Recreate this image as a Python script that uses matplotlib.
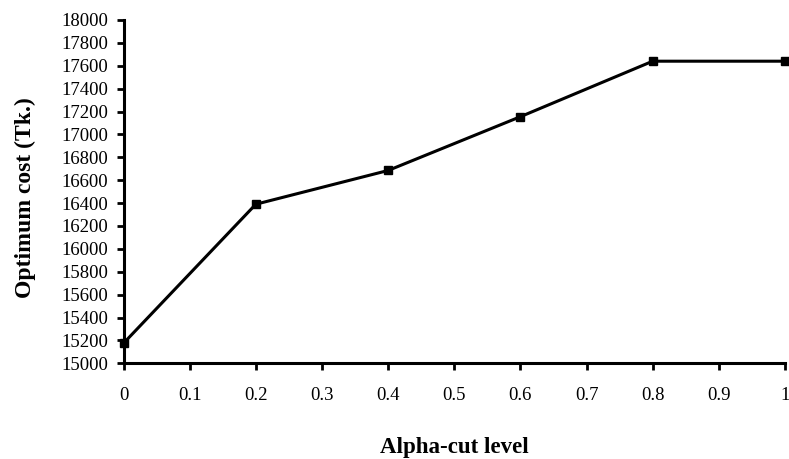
import matplotlib
matplotlib.use("Agg")
import matplotlib.pyplot as plt
import numpy as np

alpha_levels = [0, 0.2, 0.4, 0.6, 0.8, 1.0]
optimum_cost = [15175, 16390, 16685, 17155, 17640, 17640]
x_ticks = [0, 0.1, 0.2, 0.3, 0.4, 0.5, 0.6, 0.7, 0.8, 0.9, 1]
x_tick_labels = ["0", "0.1", "0.2", "0.3", "0.4", "0.5", "0.6", "0.7", "0.8", "0.9", "1"]
y_ticks = list(range(15000, 18001, 200))

plt.rcParams['font.family'] = ['Liberation Serif', 'DejaVu Serif']

fig = plt.figure(figsize=(7.89, 4.59), dpi=100)
ax = fig.add_axes([123.5/789, 1 - 363.3/459, (785 - 123.5)/789, (363.3 - 20)/459])

ax.plot(alpha_levels, optimum_cost, color='black', linewidth=2.2,
        marker='s', markersize=5.5, clip_on=False, zorder=3)

ax.set_xlim(0, 1)
ax.set_ylim(15000, 18000)
ax.set_xticks(x_ticks)
ax.set_xticklabels(x_tick_labels)
ax.set_yticks(y_ticks)
ax.set_yticklabels([str(v) for v in y_ticks])

for s in ['top', 'right']:
    ax.spines[s].set_visible(False)
for s in ['left', 'bottom']:
    ax.spines[s].set_linewidth(2.2)

ax.tick_params(axis='both', direction='out', length=5, width=2, labelsize=13.5, colors='black')
ax.tick_params(axis='x', pad=12)
ax.tick_params(axis='y', pad=6)

ax.set_xlabel('Alpha-cut level', fontsize=16.5, fontweight='bold', labelpad=24)
ax.set_ylabel('Optimum cost (Tk.)', fontsize=17, fontweight='bold')
ax.yaxis.set_label_coords(-0.132, 0.482)

fig.savefig('out.png', dpi=100)
